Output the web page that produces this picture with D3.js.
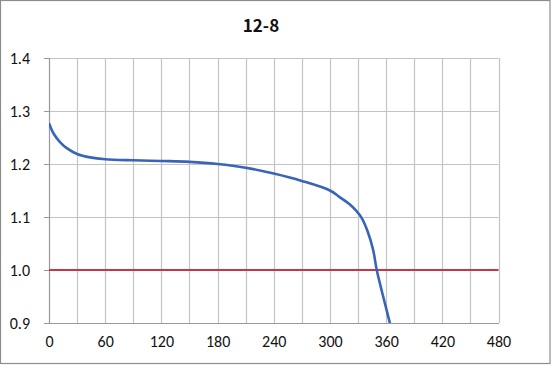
<!DOCTYPE html>
<html><head><meta charset="utf-8">
<script src="https://cdn.jsdelivr.net/npm/d3@7"></script>
<style>html,body{margin:0;padding:0;background:#fff;}</style>
</head><body>
<svg id="c" width="551" height="365"></svg>
<script>
const title = "12-8";
const xTicks = [0, 60, 120, 180, 240, 300, 360, 420, 480];
const yTicks = [0.9, 1.0, 1.1, 1.2, 1.3, 1.4];
const timeMin = [0, 5, 12, 19, 30, 44, 60, 90, 120, 150, 180, 210, 240, 270, 300, 310, 321, 328, 334, 340, 346, 350, 355, 360, 364, 368];
const voltage = [1.277, 1.257, 1.241, 1.230, 1.219, 1.2125, 1.209, 1.207, 1.2057, 1.204, 1.200, 1.193, 1.182, 1.168, 1.150, 1.138, 1.124, 1.112, 1.098, 1.074, 1.039, 1.000, 0.963, 0.928, 0.900, 0.872];
const cutoff = [1.0, 1.0];
const cutoffX = [0, 480];

const svg = d3.select("#c");
const L = 49, R = 498.5, T = 58, B = 323;
const x = d3.scaleLinear().domain([0, 480]).range([L, R]);
const y = d3.scaleLinear().domain([0.9, 1.4]).range([B, T]);
const tickFont = "Carlito, Lato, 'Liberation Sans', sans-serif";

svg.append("rect").attr("x", 0.5).attr("y", 0.5).attr("width", 549.5).attr("height", 363)
  .attr("fill", "#fff").attr("stroke", "#8c8c8c").attr("stroke-width", 1.2);

const vGrid = d3.range(30, 481, 30);
svg.append("g").selectAll("line").data(vGrid).join("line")
  .attr("x1", d => Math.round(x(d)) + 0.5).attr("x2", d => Math.round(x(d)) + 0.5)
  .attr("y1", T).attr("y2", B).attr("stroke", "#c4c4c4").attr("stroke-width", 1.2);
svg.append("g").selectAll("line").data(yTicks.slice(1)).join("line")
  .attr("x1", L).attr("x2", R)
  .attr("y1", d => Math.round(y(d)) + 0.5).attr("y2", d => Math.round(y(d)) + 0.5)
  .attr("stroke", "#c4c4c4").attr("stroke-width", 1.2);

const yAxis = d3.axisLeft(y).tickValues(yTicks).tickSize(5).tickFormat(d3.format(".1f"));
const gy = svg.append("g").attr("transform", `translate(${L},0)`).call(yAxis);
gy.select(".domain").attr("stroke", "#999").attr("stroke-width", 1.2);
gy.selectAll(".tick line").attr("stroke", "#999");
gy.selectAll("text").attr("x", -19).attr("font-size", 16).attr("fill", "#111")
  .attr("font-family", tickFont);

const xAxis = d3.axisBottom(x).tickValues(xTicks).tickSize(0).tickPadding(13);
const gx = svg.append("g").attr("transform", `translate(0,${B})`).call(xAxis);
gx.select(".domain").attr("stroke", "#999").attr("stroke-width", 1.2);
gx.selectAll("text").attr("font-size", 16).attr("fill", "#111")
  .attr("font-family", tickFont);

svg.append("clipPath").attr("id", "clip").append("rect")
  .attr("x", L).attr("y", T - 5).attr("width", R - L).attr("height", B - T + 5);

const cutLine = d3.line().x((d, i) => x(cutoffX[i])).y(d => y(d));
svg.append("path").datum(cutoff).attr("d", cutLine)
  .attr("fill", "none").attr("stroke", "#c8344a").attr("stroke-width", 2);

const line = d3.line().x((d, i) => x(timeMin[i])).y(d => y(d)).curve(d3.curveCatmullRom.alpha(0.5));
svg.append("path").datum(voltage).attr("d", line).attr("clip-path", "url(#clip)")
  .attr("fill", "none").attr("stroke", "#3a64b8").attr("stroke-width", 2.6);

svg.append("text").attr("x", 261).attr("y", 32).attr("text-anchor", "middle")
  .attr("font-size", 17).attr("font-weight", "bold").attr("fill", "#111")
  .attr("font-family", "'Noto Sans CJK JP', 'DejaVu Sans', sans-serif").text(title);
</script>
</body></html>
